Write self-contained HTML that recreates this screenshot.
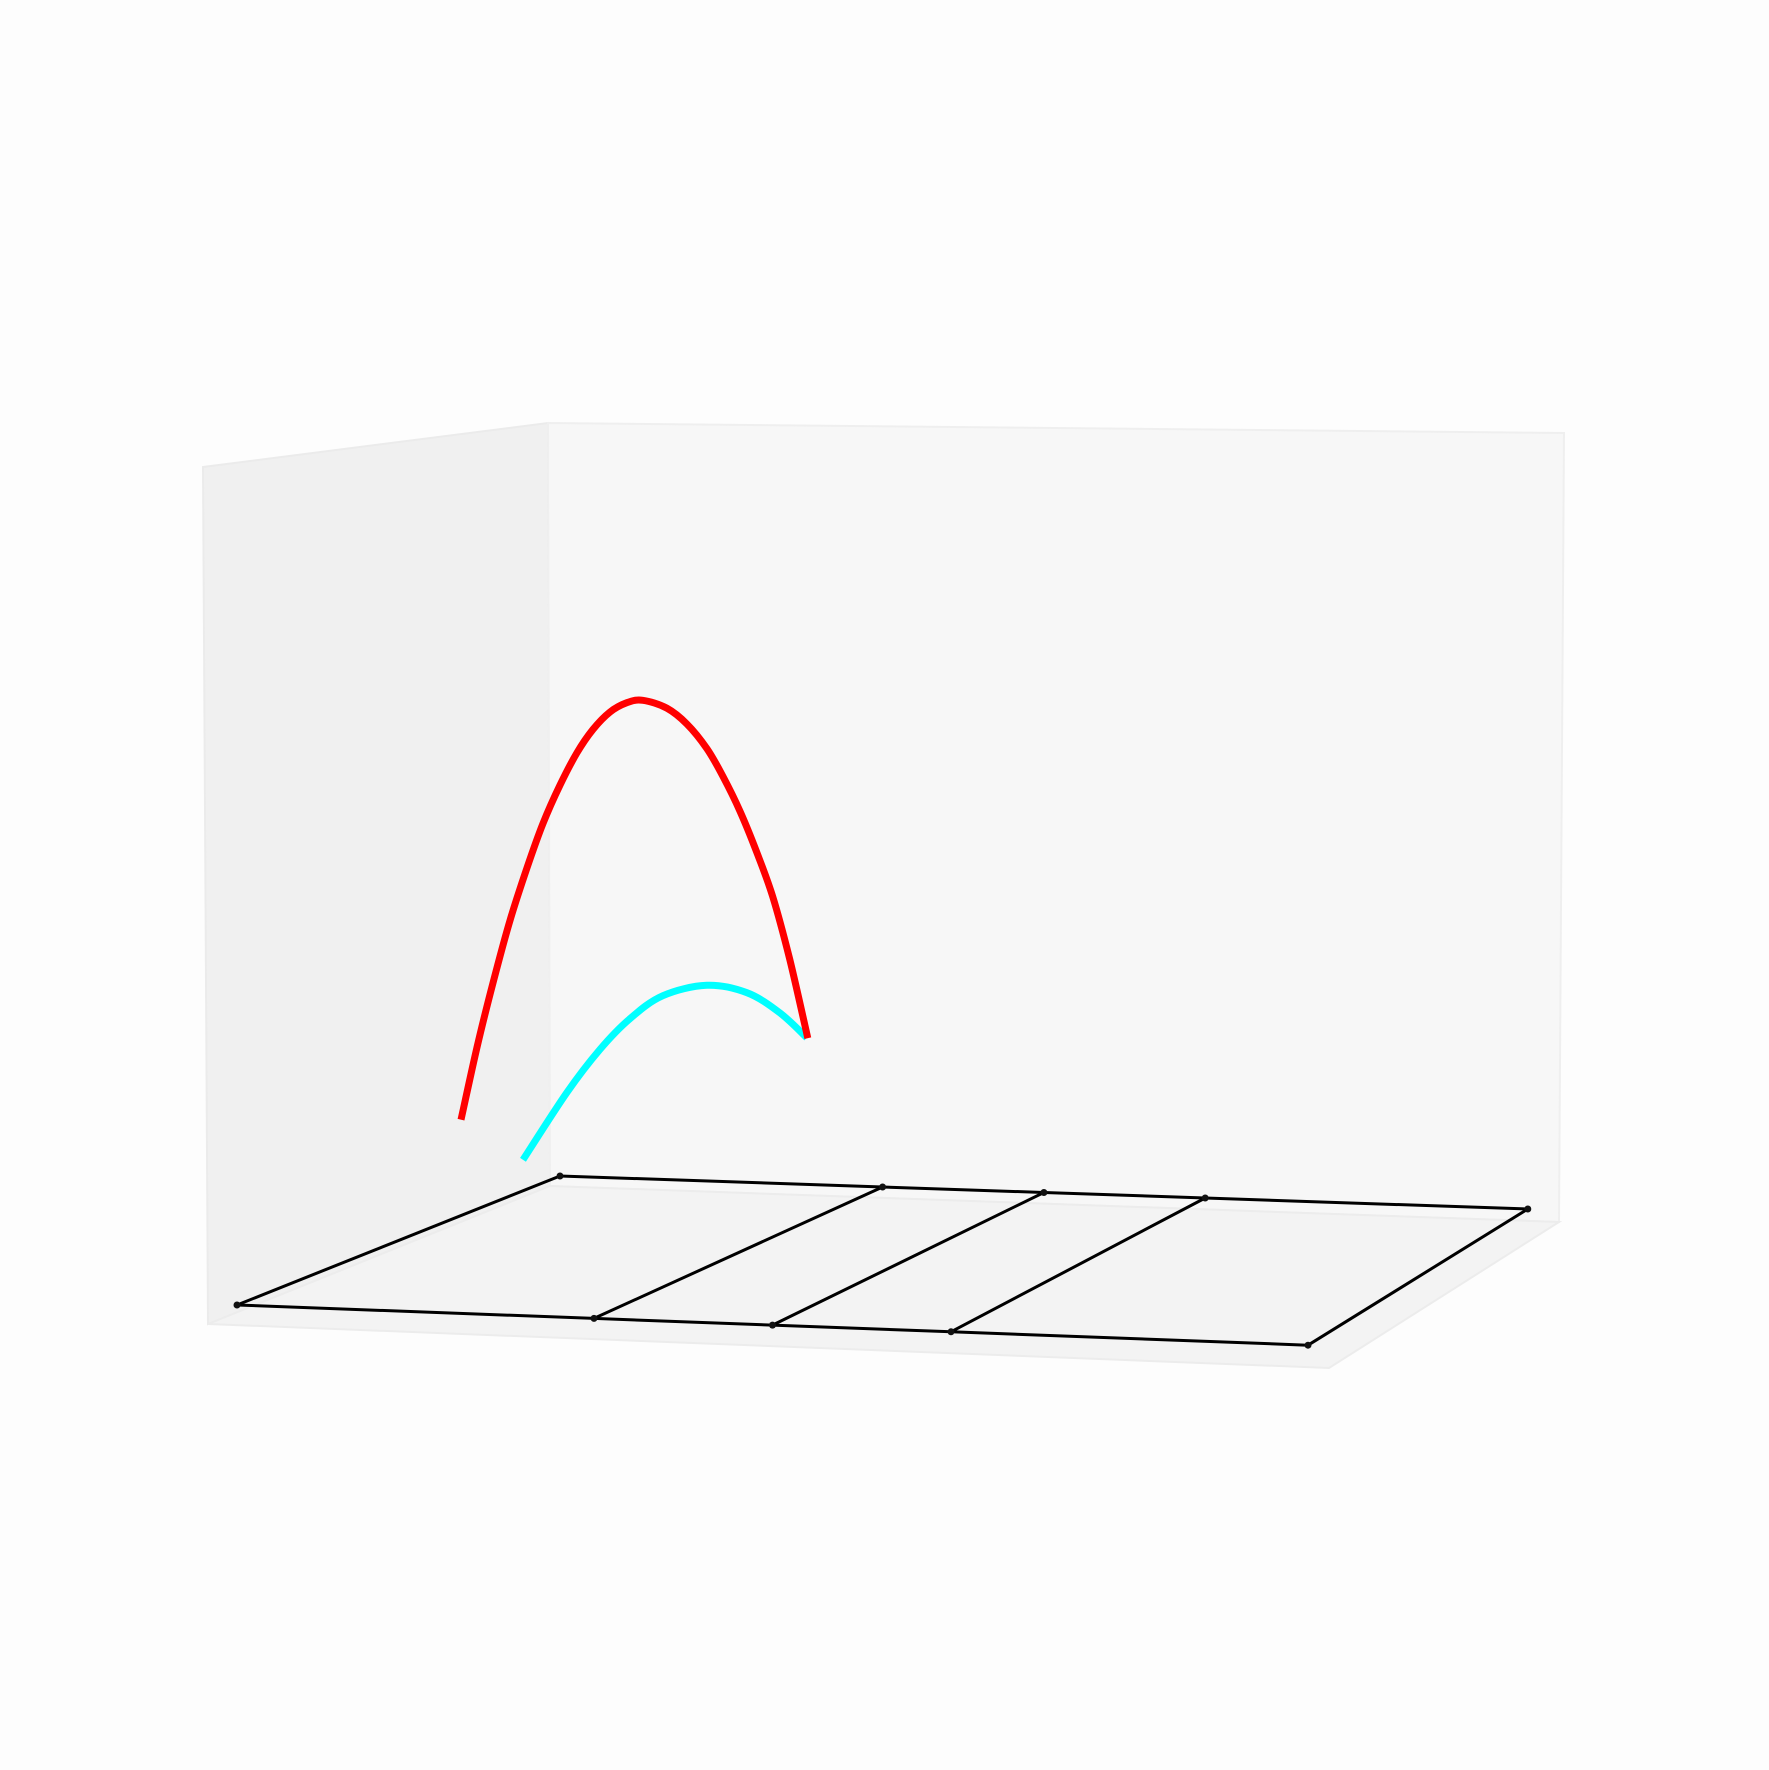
<!DOCTYPE html>
<html><head><meta charset="utf-8"><style>
html,body{margin:0;padding:0;background:#fdfdfd;}
svg{display:block;}
</style></head><body>
<svg id="chart" width="1769" height="1770" viewBox="0 0 1769 1770" xmlns="http://www.w3.org/2000/svg">
<rect width="1769" height="1770" fill="#fdfdfd"/>
<polygon points="203,467 548,423 550,1186 208,1324" fill="#f0f0f0" stroke="#ebebeb" stroke-width="2"/>
<polygon points="548,423 1564,433 1559,1222 550,1186" fill="#f7f7f7" stroke="#efefef" stroke-width="2"/>
<polygon points="208,1324 550,1186 1559,1222 1329,1368" fill="#f3f3f3" stroke="#ececec" stroke-width="2"/>
<g id="wire"></g>
<g id="curves"></g>
</svg>
<script>
const gridX = [0, 2, 3, 4, 6];
const gridY = [0, 1];
const redX = [0.368, 0.462, 0.556, 0.656, 0.756, 0.85, 0.95, 1.05, 1.144, 1.244, 1.344, 1.438, 1.579, 1.697, 1.815, 1.909, 2.009, 2.109, 2.203, 2.303, 2.409];
const redZ = [123, 196, 261, 324, 377, 422, 461, 494, 518, 536, 546, 549, 542, 527, 503, 476, 442, 401, 357, 295, 217];
const redY = 0.5;
const cyanX = [0.36, 0.624, 0.822, 1.003, 1.2, 1.464, 1.705, 1.903, 2.065];
const cyanZ = [57, 126, 170, 202, 226, 238, 232, 213, 189];
const cyanY = 0.7;

const NS = "http://www.w3.org/2000/svg";
function front(x){ return [237 + 178.5*x, 1305 + 6.7*x]; }
function back(x){ return [560 + 161.3*x, 1176 + 5.5*x]; }
function proj(x, y, z){
  const f = front(x), b = back(x);
  return [f[0] + (b[0]-f[0])*y, f[1] + (b[1]-f[1])*y - z];
}
function smoothPath(pts){
  let d = "M" + pts[0][0].toFixed(1) + "," + pts[0][1].toFixed(1);
  for (let i = 0; i < pts.length-1; i++){
    const p0 = pts[Math.max(0,i-1)], p1 = pts[i], p2 = pts[i+1], p3 = pts[Math.min(pts.length-1,i+2)];
    const c1 = [p1[0]+(p2[0]-p0[0])/6, p1[1]+(p2[1]-p0[1])/6];
    const c2 = [p2[0]-(p3[0]-p1[0])/6, p2[1]-(p3[1]-p1[1])/6];
    d += " C" + c1.map(v=>v.toFixed(1)).join(",") + " " + c2.map(v=>v.toFixed(1)).join(",") + " " + p2.map(v=>v.toFixed(1)).join(",");
  }
  return d;
}
const wire = document.getElementById("wire");
function line(a, b, name){
  const l = document.createElementNS(NS, "line");
  l.setAttribute("x1", a[0]); l.setAttribute("y1", a[1]);
  l.setAttribute("x2", b[0]); l.setAttribute("y2", b[1]);
  l.setAttribute("stroke", "#000"); l.setAttribute("stroke-width", "3");
  
  
  wire.appendChild(l);
}
gridY.forEach((y, j) => {
  for (let i = 0; i < gridX.length-1; i++){
    line(proj(gridX[i], y, 0), proj(gridX[i+1], y, 0), "wire-row-segment");
  }
});
gridX.forEach(x => {
  line(proj(x, gridY[0], 0), proj(x, gridY[1], 0), "wire-column-segment");
});
gridX.forEach(x => gridY.forEach(y => {
  const p = proj(x, y, 0);
  const c = document.createElementNS(NS, "circle");
  c.setAttribute("cx", p[0]); c.setAttribute("cy", p[1]); c.setAttribute("r", 3.5);
  c.setAttribute("fill", "#111");
  
  
  wire.appendChild(c);
}));
const curves = document.getElementById("curves");
function curve(xs, zs, y, color, name){
  const pts = xs.map((x, i) => proj(x, y, zs[i]));
  const p = document.createElementNS(NS, "path");
  p.setAttribute("d", smoothPath(pts));
  p.setAttribute("fill", "none");
  p.setAttribute("stroke", color);
  p.setAttribute("stroke-width", "7");
  p.setAttribute("stroke-linejoin", "round");
  
  
  curves.appendChild(p);
}
curve(cyanX, cyanZ, cyanY, "#00ffff", "cyan-curve");
curve(redX, redZ, redY, "#ff0000", "red-curve");
</script>
</body></html>
